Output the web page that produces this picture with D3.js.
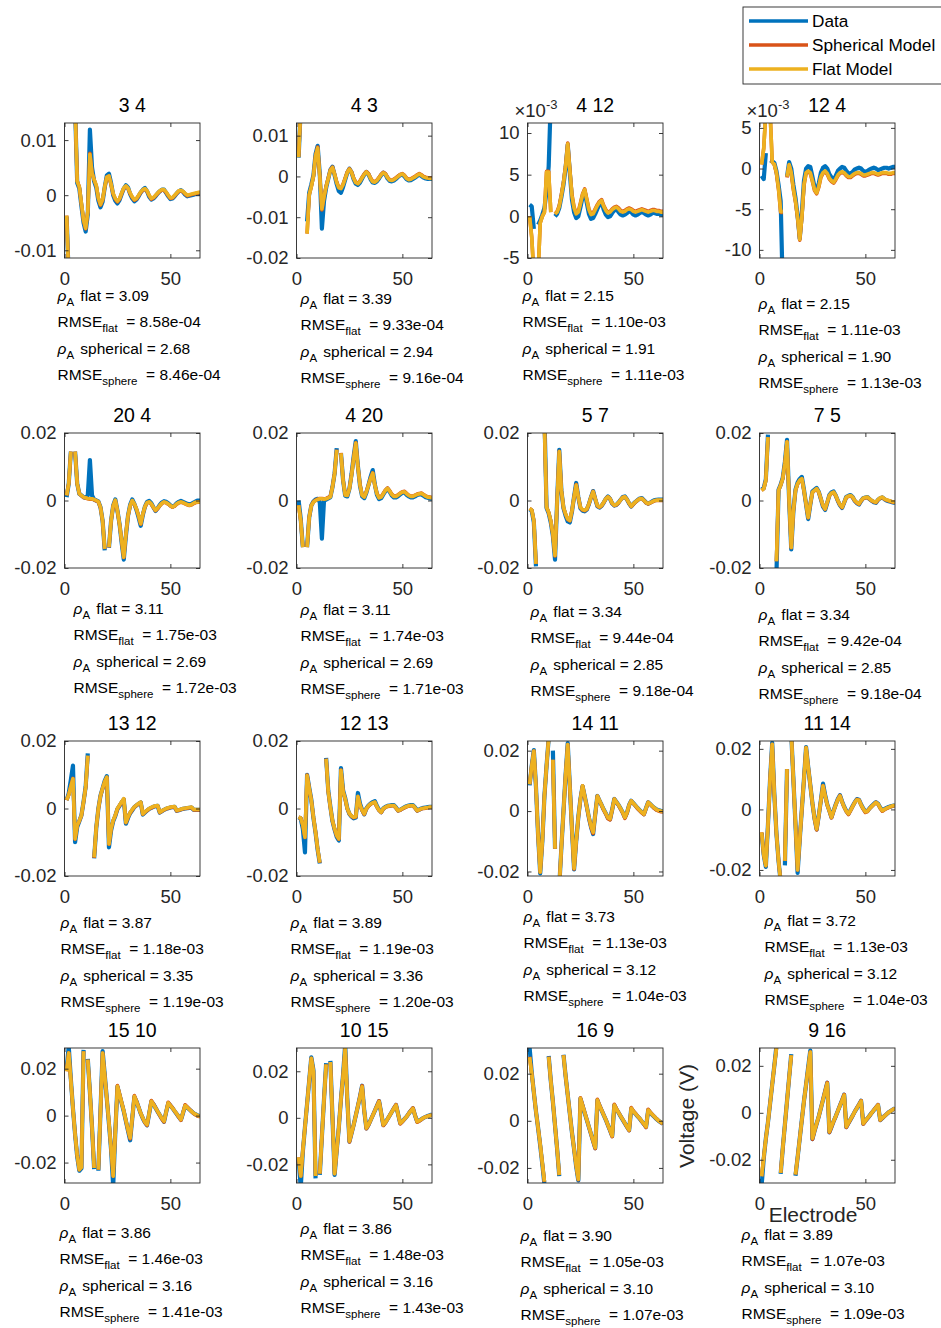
<!DOCTYPE html>
<html>
<head>
<meta charset="utf-8">
<title>Electrode voltage profiles</title>
<script src="https://cdn.jsdelivr.net/npm/d3@7/dist/d3.min.js"></script>
<style>
  html, body { margin: 0; padding: 0; background: #fff; }
  svg text { font-family: "Liberation Sans", Arial, Helvetica, sans-serif; white-space: pre; }
</style>
</head>
<body>
<svg id="fig" width="941" height="1328"></svg>
<script>
// ---------------------------------------------------------------
// Panel labels (stimulation pair) and fit summaries
// ---------------------------------------------------------------
const pairs = ["3 4", "4 3", "4 12", "12 4", "20 4", "4 20", "5 7", "7 5",
               "13 12", "12 13", "14 11", "11 14", "15 10", "10 15", "16 9", "9 16"];
const rhoFlat    = [3.09, 3.39, 2.15, 2.15, 3.11, 3.11, 3.34, 3.34, 3.87, 3.89, 3.73, 3.72, 3.86, 3.86, 3.90, 3.89];
const rmseFlat   = [8.58e-4, 9.33e-4, 1.10e-3, 1.11e-3, 1.75e-3, 1.74e-3, 9.44e-4, 9.42e-4, 1.18e-3, 1.19e-3, 1.13e-3, 1.13e-3, 1.46e-3, 1.48e-3, 1.05e-3, 1.07e-3];
const rhoSphere  = [2.68, 2.94, 1.91, 1.90, 2.69, 2.69, 2.85, 2.85, 3.35, 3.36, 3.12, 3.12, 3.16, 3.16, 3.10, 3.10];
const rmseSphere = [8.46e-4, 9.16e-4, 1.11e-3, 1.13e-3, 1.72e-3, 1.71e-3, 9.18e-4, 9.18e-4, 1.19e-3, 1.20e-3, 1.04e-3, 1.04e-3, 1.41e-3, 1.43e-3, 1.07e-3, 1.09e-3];

// y-axis limits (V), tick values (V) and tick exponent per panel
const yLimits = [
  [-0.0114, 0.0131], [-0.0200, 0.0131], [-0.0050, 0.0112], [-0.0110, 0.0056],
  [-0.02, 0.02], [-0.02, 0.02], [-0.02, 0.02], [-0.02, 0.02],
  [-0.02, 0.02], [-0.02, 0.02], [-0.0215, 0.0232], [-0.0220, 0.0226],
  [-0.0287, 0.0288], [-0.0280, 0.0300], [-0.0264, 0.0309], [-0.0299, 0.0276]
];
const yTickValues = [
  [-0.01, 0, 0.01], [-0.02, -0.01, 0, 0.01], [-0.005, 0, 0.005, 0.01], [-0.01, -0.005, 0, 0.005],
  [-0.02, 0, 0.02], [-0.02, 0, 0.02], [-0.02, 0, 0.02], [-0.02, 0, 0.02],
  [-0.02, 0, 0.02], [-0.02, 0, 0.02], [-0.02, 0, 0.02], [-0.02, 0, 0.02],
  [-0.02, 0, 0.02], [-0.02, 0, 0.02], [-0.02, 0, 0.02], [-0.02, 0, 0.02]
];
const yExponent = [0, 0, -3, -3, 0, 0, 0, 0, 0, 0, 0, 0, 0, 0, 0, 0];
const xTickValues = [0, 50];
const xLimits = [0, 64];

// Electrode index (x) for every recorded value
const electrodes = d3.range(1, 65);

// ---------------------------------------------------------------
// Voltages in mV, electrodes 1..64 (null = stimulating electrode)
// ---------------------------------------------------------------
// 3 4
const data_3_4 = [-3.9,-15,null,null,16,2.2,1.2,-2.0, -5.0,-6.6,-3.5,11.9,5.0,2.5,1.4,-1.0, -2.2,-1.2,1.4,3.6,3.9,2.2,0.0,-1.0, -1.5,-0.9,0.2,1.2,1.8,1.4,0.2,-0.6, -1.1,-0.8,-0.2,0.5,1.0,1.3,0.7,-0.3, -0.8,-0.6,-0.2,0.3,0.7,1.0,1.0,0.4, -0.2,-0.7,-0.6,-0.2,0.3,0.7,0.9,0.6, 0.1,-0.2,-0.1,0.0,0.1,0.2,0.3,0.3];
const sph_3_4  = [-3.7,-15,null,null,16,2.6,1.5,-1.6, -4.6,-6.1,-3.0,7.6,4.1,2.8,1.7,-0.6, -1.8,-0.9,1.4,3.3,3.4,1.9,0.2,-0.7, -1.2,-0.7,0.3,1.2,1.6,1.2,0.3,-0.4, -0.9,-0.7,-0.1,0.5,0.9,1.1,0.7,-0.1, -0.7,-0.5,-0.1,0.3,0.7,0.9,0.9,0.5, -0.1,-0.6,-0.5,-0.1,0.3,0.7,0.8,0.6, 0.2,-0.1,0.0,0.1,0.2,0.3,0.4,0.5];
const flat_3_4 = [-3.7,-15,null,null,16,2.5,1.5,-1.5, -4.5,-6.0,-3.0,7.4,4.0,2.8,1.8,-0.5, -1.7,-0.8,1.5,3.3,3.5,2.0,0.3,-0.6, -1.1,-0.6,0.4,1.3,1.7,1.3,0.4,-0.3, -0.8,-0.6,0.0,0.6,1.0,1.2,0.8,0.0, -0.6,-0.4,0.0,0.4,0.8,1.0,1.0,0.6, 0.0,-0.5,-0.4,0.0,0.4,0.8,0.9,0.7, 0.3,0.0,0.1,0.2,0.3,0.4,0.5,0.6];
// 4 3
const data_4_3 = [4.6,17,null,null,-11,-4.0,-2.0,0.3, 5.5,7.5,0.5,-12.8,-6.0,-2.8,-0.6,1.6, 2.4,0.3,-1.9,-3.6,-4.0,-2.6,-0.8,0.9, 1.9,1.0,-0.7,-1.8,-2.1,-1.5,-0.5,0.4, 1.1,0.5,-0.7,-1.5,-1.6,-1.2,-0.5,0.3, 0.9,0.5,-0.5,-1.1,-1.2,-1.0,-0.6,-0.1, 0.3,0.5,0.0,-0.7,-1.0,-0.9,-0.6,-0.3, 0.1,0.4,0.1,-0.3,-0.5,-0.6,-0.6,-0.6];
const sph_4_3  = [4.8,17,null,null,-14,-4.6,-2.5,0.0, 5.1,7.2,0.1,-8.2,-5.0,-2.4,-0.4,1.6, 2.3,0.6,-1.4,-2.7,-2.9,-1.9,-0.4,1.1, 1.9,1.1,-0.4,-1.4,-1.7,-1.1,-0.2,0.6, 1.2,0.7,-0.4,-1.2,-1.3,-0.9,-0.2,0.5, 1.0,0.7,-0.2,-0.8,-0.9,-0.7,-0.3,0.1, 0.5,0.7,0.3,-0.4,-0.7,-0.6,-0.3,0.0, 0.4,0.7,0.4,0.0,-0.2,-0.3,-0.4,-0.4];
const flat_4_3 = [4.7,17,null,null,-14,-4.5,-2.5,0.0, 5.0,7.0,0.0,-8.0,-5.0,-2.5,-0.5,1.5, 2.2,0.5,-1.5,-2.8,-3.0,-2.0,-0.5,1.0, 1.8,1.0,-0.5,-1.5,-1.8,-1.2,-0.3,0.5, 1.1,0.6,-0.5,-1.3,-1.4,-1.0,-0.3,0.4, 0.9,0.6,-0.3,-0.9,-1.0,-0.8,-0.4,0.0, 0.4,0.6,0.2,-0.5,-0.8,-0.7,-0.4,-0.1, 0.3,0.6,0.3,-0.1,-0.3,-0.4,-0.5,-0.5];
// 4 12
const data_4_12 = [1.4,1.2,-1.5,null,-1.0,-0.5,0.2,1.0, 3.0,6.0,14,null,0.0,0.3,1.0,2.3, 3.8,5.8,8.6,5.2,2.0,0.5,-0.2,0.0, 1.1,2.3,3.0,1.6,0.3,-0.3,-0.2,0.3, 0.9,1.4,1.7,0.8,0.2,-0.1,0.0,0.4, 0.7,0.9,0.5,0.2,0.1,0.2,0.4,0.6, 0.5,0.2,0.1,0.2,0.4,0.5,0.4,0.2, 0.1,0.2,0.4,0.4,0.3,0.3,0.2,0.2];
const sph_4_12  = [0.0,-2.5,-7.0,null,-7.0,-0.8,0.0,0.5, 5.4,5.4,0.5,null,0.3,0.6,1.3,2.6, 4.1,6.1,8.8,5.6,2.6,1.1,0.4,0.6, 1.6,2.7,3.3,2.1,0.9,0.3,0.4,0.9, 1.4,1.8,2.0,1.3,0.8,0.5,0.6,0.9, 1.1,1.2,1.0,0.7,0.6,0.7,0.9,1.0, 0.9,0.7,0.6,0.7,0.8,0.9,0.8,0.7, 0.6,0.7,0.8,0.8,0.7,0.7,0.6,0.6];
const flat_4_12 = [0.0,-2.5,-7.0,null,-7.0,-0.8,0.0,0.5, 5.3,5.3,0.5,null,0.3,0.5,1.2,2.5, 4.0,6.0,8.7,5.5,2.5,1.0,0.3,0.5, 1.5,2.6,3.2,2.0,0.8,0.2,0.3,0.8, 1.3,1.7,1.9,1.2,0.7,0.4,0.5,0.8, 1.0,1.1,0.9,0.6,0.5,0.6,0.8,0.9, 0.8,0.6,0.5,0.6,0.7,0.8,0.7,0.6, 0.5,0.6,0.7,0.7,0.6,0.6,0.5,0.5];
// 12 4
const data_12_4 = [-0.9,-1.3,1.9,null,1.0,0.9,0.7,-0.3, -2.0,-4.0,-15,null,-1.0,0.8,0.0,-2.0, -3.6,-5.8,-8.6,-5.5,-1.5,0.0,0.3,0.2, -1.0,-2.3,-2.8,-1.8,-0.5,0.1,0.3,0.0, -0.7,-1.1,-1.5,-0.9,-0.3,0.0,0.2,0.1, -0.3,-0.6,-0.6,-0.4,-0.1,0.0,0.1,0.0, -0.3,-0.4,-0.3,-0.1,0.0,0.1,0.0,-0.2, -0.1,0.0,0.1,0.1,0.0,0.1,0.2,0.2];
const sph_12_4  = [0.5,2.5,7.0,null,7.0,0.8,0.5,-0.6, -2.6,-5.4,-5.4,null,-1.1,0.4,-0.6,-2.6, -4.1,-6.1,-8.8,-6.1,-2.1,-0.6,-0.4,-0.6, -1.6,-2.7,-3.1,-2.3,-1.1,-0.6,-0.4,-0.7, -1.3,-1.6,-1.8,-1.4,-0.9,-0.6,-0.5,-0.6, -0.9,-1.1,-1.1,-0.9,-0.7,-0.6,-0.6,-0.7, -0.9,-0.9,-0.8,-0.7,-0.6,-0.6,-0.7,-0.8, -0.7,-0.6,-0.6,-0.6,-0.7,-0.7,-0.6,-0.6];
const flat_12_4 = [0.5,2.5,7.0,null,7.0,0.8,0.5,-0.5, -2.5,-5.3,-5.3,null,-1.0,0.5,-0.5,-2.5, -4.0,-6.0,-8.7,-6.0,-2.0,-0.5,-0.3,-0.5, -1.5,-2.6,-3.0,-2.2,-1.0,-0.5,-0.3,-0.6, -1.2,-1.5,-1.7,-1.3,-0.8,-0.5,-0.4,-0.5, -0.8,-1.0,-1.0,-0.8,-0.6,-0.5,-0.5,-0.6, -0.8,-0.8,-0.7,-0.6,-0.5,-0.5,-0.6,-0.7, -0.6,-0.5,-0.5,-0.5,-0.6,-0.6,-0.5,-0.5];
// 20 4
const data_20_4 = [1.0,5.0,14.5,null,14.5,5.0,2.0,1.5, 1.0,0.8,1.5,12.0,1.5,0.3,0.0,-0.3, -2.0,-6.0,-14.8,null,-14.0,-6.0,-1.5,0.3, -3.0,-7.0,-12.5,-17.5,-10.5,-4.5,-1.3,0.3, -1.0,-2.8,-5.0,-7.5,-4.3,-1.8,-0.4,-0.1, -0.8,-2.0,-3.1,-2.3,-1.3,-0.6,-0.2,-0.4, -0.8,-1.4,-1.8,-1.5,-0.8,-0.4,-0.1,-0.4, -0.7,-1.0,-1.2,-1.0,-0.6,-0.3,0.0,0.0];
const sph_20_4  = [1.5,5.0,14.5,null,14.5,5.0,2.0,1.4, 0.9,0.7,0.5,0.4,0.4,0.2,-0.1,-0.4, -2.1,-6.1,-14.4,null,-13.9,-6.1,-1.6,0.0, -3.1,-7.1,-12.1,-16.9,-10.1,-4.6,-1.6,-0.1, -1.1,-2.6,-4.6,-7.0,-4.1,-1.9,-0.7,-0.5, -1.1,-2.1,-3.0,-2.4,-1.6,-0.9,-0.5,-0.7, -1.1,-1.6,-2.0,-1.7,-1.1,-0.7,-0.5,-0.7, -1.0,-1.3,-1.5,-1.3,-0.9,-0.6,-0.5,-0.5];
const flat_20_4 = [1.5,5.0,14.5,null,14.5,5.0,2.0,1.5, 1.0,0.8,0.6,0.5,0.5,0.3,0.0,-0.3, -2.0,-6.0,-14.3,null,-13.8,-6.0,-1.5,0.1, -3.0,-7.0,-12.0,-16.8,-10.0,-4.5,-1.5,0.0, -1.0,-2.5,-4.5,-6.9,-4.0,-1.8,-0.6,-0.4, -1.0,-2.0,-2.9,-2.3,-1.5,-0.8,-0.4,-0.6, -1.0,-1.5,-1.9,-1.6,-1.0,-0.6,-0.4,-0.6, -0.9,-1.2,-1.4,-1.2,-0.8,-0.5,-0.4,-0.4];
// 4 20
const data_4_20 = [0.0,-5.5,-13.8,null,-13.8,-5.0,-1.5,-0.3, 0.3,0.5,-0.5,-11.3,0.0,0.3,0.6,1.0, 4.0,8.0,15.5,null,14.0,6.0,1.4,1.2, 3.5,7.8,13.0,17.6,10.2,4.3,1.2,0.7, 2.3,4.6,7.0,9.0,4.8,1.7,0.4,0.7, 1.8,2.8,3.5,2.6,1.5,0.9,0.9,1.3, 1.8,2.3,2.4,1.7,1.2,0.9,0.9,1.2, 1.6,1.8,1.8,1.4,1.0,0.8,0.6,0.5];
const sph_4_20  = [-1.4,-6.0,-13.8,null,-13.8,-5.0,-1.5,-0.4, 0.1,0.4,0.6,0.6,0.5,0.6,0.9,1.2, 4.1,8.1,15.1,null,14.1,6.1,1.7,1.6, 3.6,7.6,12.6,17.1,10.1,4.6,1.6,1.1, 2.6,4.6,6.6,8.2,4.6,2.1,0.9,1.1, 2.1,3.1,3.7,2.9,1.9,1.3,1.3,1.7, 2.2,2.6,2.7,2.1,1.6,1.3,1.3,1.6, 1.9,2.1,2.2,1.8,1.4,1.1,1.0,0.9];
const flat_4_20 = [-1.4,-6.0,-13.8,null,-13.8,-5.0,-1.5,-0.5, 0.0,0.3,0.5,0.5,0.4,0.5,0.8,1.1, 4.0,8.0,15.0,null,14.0,6.0,1.6,1.5, 3.5,7.5,12.5,17.0,10.0,4.5,1.5,1.0, 2.5,4.5,6.5,8.1,4.5,2.0,0.8,1.0, 2.0,3.0,3.6,2.8,1.8,1.2,1.2,1.6, 2.1,2.5,2.6,2.0,1.5,1.2,1.2,1.5, 1.8,2.0,2.1,1.7,1.3,1.0,0.9,0.8];
// 5 7
const data_5_7 = [-2.6,-3.0,-6.5,-19.5,null,3.0,null,25.0, -2.2,-3.8,-6.5,-10.5,-17.5,0.0,15.0,3.0, -2.3,-4.5,-6.2,-6.5,-3.3,1.2,5.2,1.0, -2.3,-3.0,-3.2,-2.7,-1.1,1.0,2.8,0.4, -1.7,-2.1,-1.6,-0.6,0.5,1.2,0.5,-0.9, -1.5,-1.3,-0.6,0.2,1.0,1.2,0.3,-0.9, -1.8,-1.0,-0.4,0.1,0.6,0.7,0.1,-0.6, -0.9,-0.6,-0.2,0.1,0.2,0.3,0.3,0.3];
const sph_5_7  = [-2.4,-2.8,-6.0,-18.8,null,3.0,null,22.0, -2.0,-3.6,-6.1,-10.1,-16.4,0.0,14.6,3.0, -2.1,-4.1,-5.6,-6.0,-3.1,1.0,4.7,1.0, -2.1,-2.8,-3.0,-2.6,-1.1,1.0,2.7,0.5, -1.6,-2.0,-1.6,-0.6,0.5,1.1,0.5,-0.9, -1.5,-1.3,-0.7,0.2,0.9,1.1,0.3,-0.9, -1.8,-1.1,-0.5,0.1,0.5,0.6,0.0,-0.7, -1.0,-0.7,-0.4,-0.1,0.0,0.0,0.0,0.0];
const flat_5_7 = [-2.4,-2.8,-6.0,-18.8,null,3.0,null,22.0, -2.0,-3.5,-6.0,-10.0,-16.3,0.0,14.5,3.0, -2.0,-4.0,-5.5,-5.9,-3.0,1.0,4.6,1.0, -2.0,-2.7,-2.9,-2.5,-1.0,1.0,2.6,0.5, -1.5,-1.9,-1.5,-0.5,0.5,1.1,0.5,-0.8, -1.4,-1.2,-0.6,0.2,0.9,1.1,0.3,-0.8, -1.7,-1.0,-0.4,0.1,0.5,0.6,0.0,-0.6, -0.9,-0.6,-0.3,0.0,0.1,0.1,0.1,0.1];
// 7 5
const data_7_5 = [3.2,3.7,6.3,19.5,null,-3.0,null,-22.0, 3.2,4.7,6.8,11.5,18.0,0.0,-14.5,-3.2, 3.2,5.3,6.4,7.0,3.2,-1.2,-5.5,-1.2, 2.7,3.2,3.7,2.6,0.4,-1.8,-2.8,-0.7, 1.6,2.4,2.7,1.5,-0.1,-1.4,-2.2,-0.6, 1.1,1.4,1.6,1.0,-0.1,-0.8,-1.2,-0.1, 0.7,0.9,1.0,0.4,-0.1,-0.5,-0.7,0.2, 0.7,0.9,0.4,0.0,-0.2,-0.4,-0.6,-0.7];
const sph_7_5  = [3.0,3.5,6.0,18.8,null,-3.0,null,-18.0, 3.0,4.5,6.5,11.0,17.4,0.0,-14.0,-3.1, 2.9,4.9,5.9,6.4,2.9,-1.1,-5.1,-1.1, 2.4,2.9,3.4,2.4,0.4,-1.6,-2.6,-0.6, 1.4,2.1,2.4,1.4,-0.1,-1.3,-2.1,-0.6, 0.9,1.2,1.4,0.9,-0.1,-0.7,-1.1,-0.1, 0.6,0.8,0.9,0.4,-0.1,-0.4,-0.6,0.2, 0.7,0.9,0.4,0.1,-0.1,-0.3,-0.5,-0.6];
const flat_7_5 = [3.0,3.5,6.0,18.8,null,-3.0,null,-18.0, 3.0,4.5,6.5,11.0,17.4,0.0,-13.9,-3.0, 3.0,5.0,6.0,6.5,3.0,-1.0,-5.0,-1.0, 2.5,3.0,3.5,2.5,0.5,-1.5,-2.5,-0.5, 1.5,2.2,2.5,1.5,0.0,-1.2,-2.0,-0.5, 1.0,1.3,1.5,1.0,0.0,-0.6,-1.0,0.0, 0.7,0.9,1.0,0.5,0.0,-0.3,-0.5,0.3, 0.8,1.0,0.5,0.2,0.0,-0.2,-0.4,-0.5];
// 13 12
const data_13_12 = [2.5,4.5,8.5,12.7,-10.0,-5.5,-3.8,-2.0, 2.0,6.5,16.3,null,null,-14.8,-5.8,0.0, 3.8,6.0,8.2,9.6,-11.5,-6.5,-3.8,-2.2, -0.2,0.8,1.8,2.7,-4.5,-2.8,-1.4,-0.5, 0.4,0.9,1.4,1.8,-1.8,-1.2,-0.6,-0.1, 0.2,0.5,0.7,0.8,-1.2,-0.8,-0.4,-0.1, 0.1,0.3,0.4,0.5,-0.7,-0.5,-0.3,-0.1, 0.0,0.1,0.2,0.3,-0.4,-0.4,-0.4,-0.4];
const sph_13_12  = [2.5,4.1,6.6,8.9,-9.1,-5.1,-3.7,-2.1, 1.9,6.2,15.6,null,null,-14.6,-5.7,-0.1, 3.7,5.9,7.9,9.2,-10.6,-6.1,-3.6,-2.1, -0.1,0.9,1.9,2.8,-4.2,-2.6,-1.3,-0.4, 0.4,0.9,1.4,1.8,-1.7,-1.1,-0.6,-0.1, 0.2,0.5,0.7,0.8,-1.2,-0.8,-0.4,-0.1, 0.1,0.3,0.4,0.5,-0.7,-0.5,-0.3,-0.1, 0.0,0.1,0.2,0.3,-0.4,-0.4,-0.4,-0.4];
const flat_13_12 = [2.5,4.0,6.5,8.8,-9.0,-5.0,-3.6,-2.0, 2.0,6.3,15.7,null,null,-14.5,-5.6,0.0, 3.8,6.0,8.0,9.3,-10.5,-6.0,-3.5,-2.0, 0.0,1.0,2.0,2.9,-4.1,-2.5,-1.2,-0.3, 0.5,1.0,1.5,1.9,-1.6,-1.0,-0.5,0.0, 0.3,0.6,0.8,0.9,-1.1,-0.7,-0.3,0.0, 0.2,0.4,0.5,0.6,-0.6,-0.4,-0.2,0.0, 0.1,0.2,0.3,0.4,-0.3,-0.3,-0.3,-0.3];
// 12 13
const data_12_13 = [-2.6,-3.0,-6.0,-13.0,10.0,6.2,2.6,-2.8, -7.2,-12.3,-16.3,null,null,15.0,5.3,0.5, -3.8,-6.3,-8.4,-9.5,12.0,5.4,3.1,0.1, -1.6,-2.4,-2.9,-2.7,4.6,1.4,-0.4,-1.7, 0.0,0.9,1.5,1.9,2.2,0.7,-0.4,-1.1, 0.0,0.5,0.8,0.9,1.0,1.0,0.3,-0.6, -0.4,0.0,0.4,0.7,0.9,1.0,1.0,0.3, -0.6,-0.3,0.0,0.2,0.3,0.4,0.5,0.5];
const sph_12_13  = [-2.6,-2.8,-5.0,-8.6,9.9,6.0,2.4,-2.6, -7.0,-12.1,-16.1,null,null,14.8,5.0,0.3, -3.7,-6.1,-8.1,-9.1,11.4,5.0,2.8,-0.1, -1.6,-2.3,-2.7,-2.5,3.5,0.9,-0.6,-1.7, -0.1,0.7,1.3,1.6,1.8,0.4,-0.6,-1.2, -0.1,0.3,0.6,0.7,0.8,0.8,0.1,-0.7, -0.5,-0.1,0.2,0.5,0.7,0.8,0.8,0.1, -0.7,-0.4,-0.1,0.0,0.1,0.2,0.3,0.3];
const flat_12_13 = [-2.6,-2.8,-5.0,-8.5,9.8,6.0,2.4,-2.6, -7.0,-12.0,-16.0,null,null,14.7,5.0,0.4, -3.6,-6.0,-8.0,-9.0,11.3,5.0,2.9,0.0, -1.5,-2.2,-2.6,-2.4,3.6,1.0,-0.5,-1.6, 0.0,0.8,1.4,1.7,1.9,0.5,-0.5,-1.1, 0.0,0.4,0.7,0.8,0.9,0.9,0.2,-0.6, -0.4,0.0,0.3,0.6,0.8,0.9,0.9,0.2, -0.6,-0.3,0.0,0.1,0.2,0.3,0.4,0.4];
// 14 11
const data_14_11 = [8.5,15,20.2,8,-8,-20.6,-10,5, 15,24,null,20,-12.5,null,-25,-12, 0,12,22.5,8,-6,-19.3,-10,-2, 4,8.2,5,1.5,-2.2,-5.3,-7.6,-1, 5,3.4,2,0.5,-0.8,-2.3,-2.7,0.5, 4,3,2,0.8,-0.5,-2.1,-0.5,2, 3.4,2.6,1.8,1.0,0.3,-0.4,-1.0,1.0, 2.9,2.3,1.6,1.0,0.5,0.3,0.1,0.0];
const sph_14_11  = [8.9,15,19.9,8,-8,-20.2,-10,5, 15,24,null,17,-12.5,null,-25,-12, 0,12,22,8,-6,-19.2,-10.2,-2.2, 3.9,8.4,4.9,1.3,-2.3,-5.3,-7.4,-1.2, 5,3.4,1.9,0.3,-1.0,-2.5,-2.9,0.4, 4,2.9,1.9,0.6,-0.7,-2.4,-0.7,1.9, 3.4,2.5,1.7,0.8,0.1,-0.6,-1.2,0.9, 2.9,2.2,1.5,0.8,0.3,0.0,-0.2,-0.3];
const flat_14_11 = [8.9,15,19.9,8,-8,-20.2,-10,5, 15,24,null,17,-12.5,null,-25,-12, 0,12,22,8,-6,-19,-10,-2, 4,8.4,5,1.5,-2,-5,-7,-1, 5,3.5,2,0.5,-0.8,-2.2,-2.6,0.5, 4,3,2,0.8,-0.5,-2.1,-0.5,2, 3.4,2.6,1.8,1.0,0.3,-0.4,-1.0,1.0, 2.9,2.3,1.6,1.0,0.5,0.2,0.0,-0.1];
// 11 14
const data_11_14 = [-7.8,-15,-19,-5,10,22,5,-8, -17,-24,null,-18.5,13.3,null,25,10, -5,-21,-10,0,10,20.6,14,8, 2,-3,-6.6,-2,3,8.5,4.8,1.6, -0.4,-2.6,-0.4,1.6,3.4,4.7,2.6,0.9, -0.5,-1.4,-0.2,1.1,2.4,3.4,3.2,1.6, 0.3,-0.7,-0.5,0.4,1.1,1.8,2.4,1.9, 0.6,-0.3,0.1,0.5,0.8,1.0,1.2,1.4];
const sph_11_14  = [-7.6,-15,-18.6,-5,10,21.5,5,-8, -17,-24,null,-17,13.3,null,25,10, -5,-20,-10,0,10,20.4,14,8, 2,-3.2,-6.8,-2.2,3,7.9,4.5,1.5, -0.6,-2.8,-0.6,1.5,3.3,4.6,2.5,0.7, -0.7,-1.7,-0.4,1.0,2.3,3.3,3.1,1.4, 0.1,-1.0,-0.7,0.3,1.0,1.7,2.3,1.7, 0.4,-0.6,-0.1,0.3,0.6,0.9,1.1,1.3];
const flat_11_14 = [-7.6,-15,-18.6,-5,10,21.5,5,-8, -17,-24,null,-17,13.3,null,25,10, -5,-20,-10,0,10,20.4,14,8, 2,-3,-6.5,-2,3,7.8,4.5,1.5, -0.5,-2.6,-0.5,1.5,3.2,4.5,2.5,0.8, -0.6,-1.5,-0.3,1.0,2.3,3.2,3.0,1.5, 0.2,-0.8,-0.6,0.3,1.0,1.7,2.3,1.8, 0.5,-0.4,0.0,0.4,0.7,1.0,1.2,1.4];
// 15 10
const data_15_10 = [20,29.5,15.5,3,-8,-17.5,-23.5,-22.5, 28,null,24.2,10,-5,-22.8,null,-23.5, 2,27.5,17.5,7,-3.5,-14.5,-30,-7, 12.4,8.8,5.3,1.8,-2.3,-6.5,-10.5,-1.2, 8.0,6.1,3.5,0.9,-1.2,-2.9,-4.1,0.9, 6.0,4.9,3.3,1.7,0.2,-1.3,-2.6,1.4, 5.3,4.3,3.2,1.9,0.7,-0.6,-1.8,1.2, 4.2,3.4,2.6,1.8,1.0,0.5,0.0,-0.3];
const sph_15_10  = [18.9,26.7,15,3,-8,-17,-23,-22, 27.4,null,23.8,10,-5,-22.3,null,-23, 2,26.7,17,7,-3,-14,-25.8,-7, 12.8,9.2,5.6,2,-2.2,-6.3,-9.9,-1.1, 8.5,6.2,3.6,1,-1.1,-3.0,-4.1,1, 6.4,5.0,3.4,1.7,0.1,-1.5,-2.7,1.5, 5.7,4.5,3.3,2,0.7,-0.7,-2.0,1.3, 4.6,3.7,2.7,1.8,0.9,0.3,-0.2,-0.5];
const flat_15_10 = [18.9,26.7,15,3,-8,-17,-23,-22, 27.4,null,23.8,10,-5,-22.3,null,-23, 2,26.7,17,7,-3,-14,-25.8,-7, 12.5,9,5.5,2,-2,-6,-9.5,-1, 8.2,6,3.5,1,-1,-2.8,-3.8,1, 6.1,4.8,3.3,1.8,0.3,-1.2,-2.4,1.5, 5.4,4.3,3.2,2,0.8,-0.5,-1.7,1.3, 4.3,3.5,2.6,1.8,1,0.5,0,-0.3];
// 10 15
const data_10_15 = [-17.5,-30,-14.5,-4,6,16,26,20.5, -26,null,-24.5,-8,8,23.5,null,24.5, 0,-24.5,-14,-4,8,18.5,31.5,8, -10.2,-6.6,-3,1,5,9.2,13.8,3, -4.5,-3,-1,1,3,5.1,7.2,2, -3.1,-2,-0.5,1,2.5,4.1,5.5,1.5, -2.3,-1.5,-0.5,0.5,1.8,3,4.1,1, -1.6,-1.2,-0.6,0,0.4,0.8,1.1,1.4];
const sph_10_15  = [-17,-25,-14,-4,6,16,25.6,20, -25,null,-24,-8,8,23,null,24, 0,-24,-14,-4,8,18,29.8,8, -10.4,-6.7,-3.1,1,5.1,9.3,13.8,3.1, -4.7,-3.2,-1.1,1,3.1,5.2,7.3,2, -3.3,-2.2,-0.6,1,2.6,4.2,5.7,1.5, -2.6,-1.7,-0.6,0.5,1.9,3.1,4.3,1, -1.9,-1.4,-0.7,0,0.4,0.7,1.0,1.1];
const flat_10_15 = [-17,-25,-14,-4,6,16,25.6,20, -25,null,-24,-8,8,23,null,24, 0,-24,-14,-4,8,18,29.8,8, -10,-6.5,-3,1,5,9,13.4,3, -4.4,-3,-1,1,3,5,7,2, -3,-2,-0.5,1,2.5,4,5.4,1.5, -2.3,-1.5,-0.5,0.5,1.8,3,4,1, -1.6,-1.2,-0.6,0,0.4,0.7,1.0,1.2];
// 16 9
const data_16_9 = [31,20.5,12,4,-3,-10.5,-18.5,-27, null,27.5,17,8,-2,-12,-23.5,null, 28,19,11,3,-5,-12,-19.5,-25.3, 9.4,6.4,3.4,0.4,-2.6,-5.6,-8.6,-11.6, 8.7,6.4,4.4,2.4,0.4,-1.9,-4.1,-6.5, 6.6,4.9,3.4,1.9,0.4,-1.1,-2.6,-4.0, 5.2,3.9,2.9,1.9,0.9,-0.3,-1.4,-2.6, 4.5,3.4,2.5,1.6,0.7,-0.1,-0.7,-1.2];
const sph_16_9  = [27.2,20,12,4,-3,-10,-18,-25.9, null,27.2,17,8,-2,-12,-23.1,null, 27.9,19,11,3,-5,-12,-19,-25, 9.8,6.7,3.6,0.5,-2.6,-5.7,-8.8,-11.8, 9.1,6.7,4.6,2.5,0.5,-1.9,-4.2,-6.7, 7.0,5.2,3.6,2.0,0.5,-1.1,-2.7,-4.2, 5.6,4.2,3.1,2.0,1.0,-0.3,-1.5,-2.8, 4.9,3.7,2.7,1.7,0.8,0,-0.7,-1.3];
const flat_16_9 = [27,20,12,4,-3,-10,-18,-25.8, null,27.1,17,8,-2,-12,-23,null, 27.8,19,11,3,-5,-12,-19,-24.8, 9.5,6.5,3.5,0.5,-2.5,-5.5,-8.5,-11.4, 8.8,6.5,4.5,2.5,0.5,-1.8,-4,-6.4, 6.7,5,3.5,2,0.5,-1,-2.5,-3.9, 5.3,4,3,2,1,-0.2,-1.3,-2.5, 4.6,3.5,2.6,1.7,0.8,0,-0.6,-1.1];
// 9 16
const data_9_16 = [-31,-19.5,-11,-4,4,12,20,28.5, null,-26,-15,-5,5,15,25,null, -26.8,-19,-11,-3,5,12,19.5,26.5, -11.2,-7.7,-4.6,-1.5,2,5.6,9.2,12.8, -8.3,-6,-3.6,-1.5,0.8,3.1,5.3,7.7, -6.1,-4.4,-2.8,-1.2,0.5,2,3.5,5.1, -4.6,-3.5,-2.4,-1.2,0,1.1,2.2,3.3, -3.1,-2.3,-1.4,-0.6,0.2,0.8,1.4,1.9];
const sph_9_16  = [-27,-19,-11,-4,4,12,20,27.5, null,-25.6,-15,-5,5,15,24.5,null, -26.3,-19,-11,-3,5,12,19,25.9, -11.3,-7.8,-4.7,-1.6,2.1,5.7,9.3,12.9, -8.4,-6.1,-3.7,-1.6,0.8,3.1,5.4,7.8, -6.2,-4.5,-2.9,-1.3,0.5,2.1,3.6,5.2, -4.8,-3.6,-2.4,-1.3,0,1.2,2.3,3.5, -3.2,-2.3,-1.5,-0.6,0.2,0.8,1.4,1.9];
const flat_9_16 = [-27,-19,-11,-4,4,12,20,27.5, null,-25.6,-15,-5,5,15,24.5,null, -26.3,-19,-11,-3,5,12,19,25.9, -10.8,-7.5,-4.5,-1.5,2,5.5,9,12.5, -8,-5.8,-3.5,-1.5,0.8,3,5.2,7.5, -5.9,-4.3,-2.7,-1.2,0.5,2,3.5,5, -4.5,-3.4,-2.3,-1.2,0,1.1,2.2,3.3, -3,-2.2,-1.4,-0.6,0.2,0.8,1.4,1.9];

const dataSeries = [data_3_4, data_4_3, data_4_12, data_12_4, data_20_4, data_4_20, data_5_7, data_7_5,
                    data_13_12, data_12_13, data_14_11, data_11_14, data_15_10, data_10_15, data_16_9, data_9_16];
const sphSeries  = [sph_3_4, sph_4_3, sph_4_12, sph_12_4, sph_20_4, sph_4_20, sph_5_7, sph_7_5,
                    sph_13_12, sph_12_13, sph_14_11, sph_11_14, sph_15_10, sph_10_15, sph_16_9, sph_9_16];
const flatSeries = [flat_3_4, flat_4_3, flat_4_12, flat_12_4, flat_20_4, flat_4_20, flat_5_7, flat_7_5,
                    flat_13_12, flat_12_13, flat_14_11, flat_11_14, flat_15_10, flat_10_15, flat_16_9, flat_9_16];

// ---------------------------------------------------------------
// Layout and style
// ---------------------------------------------------------------
const colX = [64.5, 296.5, 527.5, 759.5];
const rowY = [123, 433, 741, 1048];
const boxW = 135.5, boxH = 135;
// annotation block: [dx from axes left, first baseline below axes bottom]
const noteOffset = [
  [-7, 43], [4, 46], [-5, 43], [-1, 51],
  [9, 46], [4, 47], [3, 49], [-1, 52],
  [-4, 52], [-6, 52], [-4, 46], [5, 50],
  [-5, 55], [4, 51], [-7, 58], [-18, 57]
];
const noteLineStep = 26.3;
const seriesStyle = [
  { name: "Data",            color: "#0072BD", width: 4.2 },
  { name: "Spherical Model", color: "#D95319", width: 3.6 },
  { name: "Flat Model",      color: "#EDB120", width: 3.6 }
];
const axisColor = "#262626";
const tickFont = 18.5, titleFont = 19.5, noteFont = 15.5, subFont = 11.5;

const svg = d3.select("#fig");
svg.append("rect").attr("width", 941).attr("height", 1328).attr("fill", "#fff");

const fmtExp = v => {
  const [m, e] = v.toExponential(2).split("e");
  const n = parseInt(e, 10);
  return m + "e" + (n < 0 ? "-" : "+") + String(Math.abs(n)).padStart(2, "0");
};

// text made of plain and subscript runs
function richText(parent, x, y, runs, size, sub) {
  const t = parent.append("text").attr("x", x).attr("y", y)
    .attr("font-size", size).attr("fill", "#000");
  let shifted = false;
  runs.forEach(r => {
    const s = t.append("tspan").text(r.text);
    if (r.sub) {
      s.attr("font-size", sub).attr("dy", shifted ? 0 : 5);
      shifted = true;
    } else {
      if (shifted) { s.attr("dy", -5); shifted = false; }
    }
    if (r.italic) s.attr("font-style", "italic");
    if (r.dx) s.attr("dx", r.dx);
  });
  return t;
}

pairs.forEach((title, i) => {
  const r = Math.floor(i / 4), c = i % 4;
  const gx = colX[c], gy = rowY[r];
  const g = svg.append("g").attr("transform", `translate(${gx},${gy})`);

  const x = d3.scaleLinear().domain(xLimits).range([0, boxW]);
  const y = d3.scaleLinear().domain(yLimits[i]).range([boxH, 0]);
  const expo = yExponent[i];
  const tickLabel = v => expo ? String(Math.round(v / Math.pow(10, expo))) : String(+v.toFixed(4));

  // curves, clipped to the axes box
  const clipId = "clip-" + i;
  g.append("clipPath").attr("id", clipId)
    .append("rect").attr("width", boxW).attr("height", boxH);
  const plot = g.append("g").attr("clip-path", `url(#${clipId})`);

  const line = d3.line()
    .defined(d => d.v !== null)
    .x(d => x(d.e))
    .y(d => y(d.v * 1e-3));

  [dataSeries[i], sphSeries[i], flatSeries[i]].forEach((vals, k) => {
    const pts = vals.map((v, j) => ({ e: electrodes[j], v }));
    plot.append("path").datum(pts)
      .attr("d", line)
      .attr("fill", "none")
      .attr("stroke", seriesStyle[k].color)
      .attr("stroke-width", seriesStyle[k].width)
      .attr("stroke-linejoin", "round")
      .attr("stroke-linecap", "butt");
  });

  // axes with inward ticks on all four sides
  const styleAxis = sel => {
    sel.attr("color", axisColor).attr("font-family", null).attr("font-size", tickFont);
    sel.select(".domain").remove();
    sel.selectAll(".tick line").attr("stroke-width", 0.9);
  };
  g.append("g").attr("transform", `translate(0,${boxH})`)
    .call(d3.axisBottom(x).tickValues(xTickValues).tickSize(-4).tickSizeOuter(0).tickPadding(14).tickFormat(d => String(d)))
    .call(styleAxis);
  g.append("g")
    .call(d3.axisTop(x).tickValues(xTickValues).tickSize(-4).tickSizeOuter(0).tickFormat(""))
    .call(styleAxis);
  g.append("g")
    .call(d3.axisLeft(y).tickValues(yTickValues[i]).tickSize(-4).tickSizeOuter(0).tickPadding(8).tickFormat(tickLabel))
    .call(styleAxis);
  g.append("g").attr("transform", `translate(${boxW},0)`)
    .call(d3.axisRight(y).tickValues(yTickValues[i]).tickSize(-4).tickSizeOuter(0).tickFormat(""))
    .call(styleAxis);
  g.append("rect").attr("width", boxW).attr("height", boxH)
    .attr("fill", "none").attr("stroke", axisColor).attr("stroke-width", 0.9);

  // tick exponent
  if (expo) {
    const e = g.append("text").attr("x", -13).attr("y", -6)
      .attr("font-size", tickFont).attr("fill", axisColor);
    e.append("tspan").text("\u00d710");
    e.append("tspan").attr("font-size", 13).attr("dy", -8).text(String(expo));
  }

  // title
  g.append("text").attr("x", boxW / 2).attr("y", -11)
    .attr("text-anchor", "middle").attr("font-size", titleFont).attr("fill", "#000")
    .text(title);

  // fit summary
  const [ndx, ndy] = noteOffset[i];
  const nx = ndx, ny = boxH + ndy;
  richText(g, nx, ny, [{ text: "\u03c1", italic: true }, { text: "A", sub: true }, { text: " flat = " + rhoFlat[i].toFixed(2), dx: 2 }], noteFont, subFont);
  richText(g, nx, ny + noteLineStep, [{ text: "RMSE" }, { text: "flat", sub: true }, { text: "  = " + fmtExp(rmseFlat[i]) }], noteFont, subFont);
  richText(g, nx, ny + 2 * noteLineStep, [{ text: "\u03c1", italic: true }, { text: "A", sub: true }, { text: " spherical = " + rhoSphere[i].toFixed(2), dx: 2 }], noteFont, subFont);
  richText(g, nx, ny + 3 * noteLineStep, [{ text: "RMSE" }, { text: "sphere", sub: true }, { text: "  = " + fmtExp(rmseSphere[i]) }], noteFont, subFont);
});

// axis labels of the last panel
svg.append("text")
  .attr("transform", "translate(694,1116) rotate(-90)")
  .attr("text-anchor", "middle").attr("font-size", 21).attr("fill", axisColor)
  .text("Voltage (V)");
svg.append("text")
  .attr("x", 813).attr("y", 1222)
  .attr("text-anchor", "middle").attr("font-size", 21).attr("fill", axisColor)
  .text("Electrode");

// legend
const leg = svg.append("g").attr("transform", "translate(743,7)");
leg.append("rect").attr("width", 210).attr("height", 77)
  .attr("fill", "#fff").attr("stroke", axisColor).attr("stroke-width", 0.9);
seriesStyle.forEach((s, k) => {
  const ly = 14 + k * 24;
  leg.append("line").attr("x1", 6).attr("x2", 65).attr("y1", ly).attr("y2", ly)
    .attr("stroke", s.color).attr("stroke-width", 3.6);
  leg.append("text").attr("x", 69).attr("y", ly + 6)
    .attr("font-size", 17.2).attr("fill", "#000").text(s.name);
});
</script>
</body>
</html>
